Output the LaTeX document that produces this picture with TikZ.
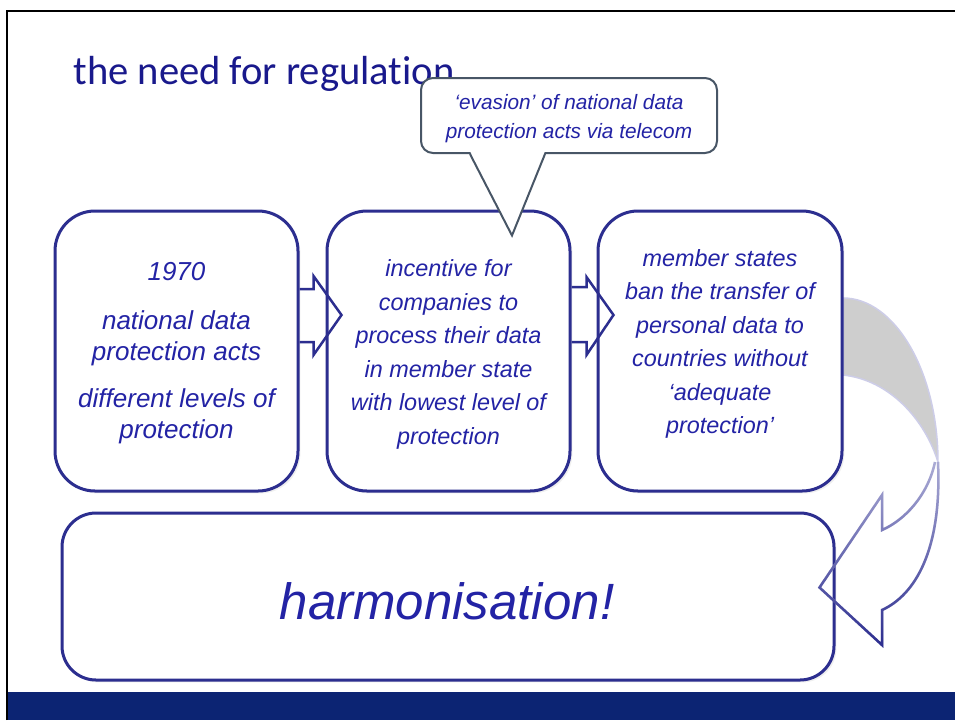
\documentclass[tikz,border=0pt]{standalone}
\usepackage{fontspec}
\setmainfont{Liberation Sans}
\newfontfamily\titlefont{Carlito}[Ligatures={NoCommon}]
\usepackage{tikz}
\usetikzlibrary{calc,shadows,fadings}
\definecolor{boxline}{RGB}{44,46,143}
\definecolor{textblue}{RGB}{35,35,165}
\definecolor{titleblue}{RGB}{25,25,140}
\definecolor{bandblue}{RGB}{12,36,115}
\definecolor{noteline}{RGB}{72,86,102}
\definecolor{ribbongray}{RGB}{206,206,206}
\definecolor{ribbonedge}{RGB}{205,205,232}

\begin{document}
\begin{tikzpicture}[x=0.5pt,y=-0.5pt]
  \tikzset{slidebox/.style={draw=boxline,line width=1.5pt,fill=white,rounded corners=20pt,inner sep=0pt,minimum width=121.5pt,minimum height=140pt,drop shadow={opacity=0.12,shadow xshift=1.2pt,shadow yshift=-1.2pt}}}
  \tikzset{boxtext/.style={text=textblue,align=center,inner sep=0pt,font=\itshape\fontsize{11.7}{16.75}\selectfont}}
  \tikzset{chevron/.style={draw=boxline,line width=1.25pt,line join=miter}}
  \tikzset{note/.style={draw=noteline,line width=1pt,fill=white,rounded corners=6pt,minimum width=148pt,minimum height=37.5pt}}
  \tikzset{notetext/.style={align=center,inner sep=0pt,text=textblue,font=\itshape\fontsize{10.4}{14.5}\selectfont}}
  \useasboundingbox (0,0) rectangle (955,720);
  \fill[white] (0,0) rectangle (955,720);
  \draw[black,line width=1.25pt] (7,720) -- (7,11) -- (955,11);
  \fill[bandblue] (8,692) rectangle (955,720);
  \node[anchor=base west,inner sep=0pt,text=titleblue,font=\titlefont\fontsize{20.3}{24}\selectfont] (title) at (73,84) {the need for regulation};
  \fill[ribbongray,draw=ribbonedge,line width=0.75pt] (843,298) .. controls (895,298) and (938,372) .. (938,462) .. controls (925,420) and (890,380) .. (843,375) -- cycle;
  \node[slidebox] (b1) at (176.5,351) {};
  \node[slidebox] (b2) at (448.5,351) {};
  \node[slidebox,minimum width=122pt] (b3) at (720,351) {};
  \node[slidebox,minimum width=386pt,minimum height=83.5pt,rounded corners=17pt] (b4) at (448,596.5) {};
  \node[boxtext,font=\itshape\fontsize{13}{15.5}\selectfont] (t1) at (176.5,353) {1970\\[9pt] national data\\protection acts\\[8pt] different levels of\\protection};
  \node[boxtext] (t2) at (448.5,354.5) {incentive for\\companies to\\process their data\\in member state\\with lowest level of\\protection};
  \node[boxtext] (t3) at (720,344) {member states\\ban the transfer of\\personal data to\\countries without\\‘adequate\\protection’};
  \node[text=textblue,inner sep=0pt,font=\itshape\fontsize{25.5}{30}\selectfont] (t4) at (447,601) {harmonisation!};
  \draw[chevron] ($(b1.east)+(0,-62)$) -- ++(14,0) -- ++(0,-13) -- ($(b2.west)+(16,-36)$) -- ($(b1.east)+(14,4)$) -- ++(0,-13) -- ++(-14,0);
  \draw[chevron] ($(b2.east)+(0,-64)$) -- ++(15,0) -- ++(0,-10) -- ($(b3.west)+(17,-36)$) -- ($(b2.east)+(15,4)$) -- ++(0,-13) -- ++(-15,0);
  \draw[ribbonedge!80!boxline,line width=1.25pt,line join=miter] (938,462) .. controls (942,550) and (915,595) .. (882,610) -- (882,645) -- ($(b4.east)+(-16,-9)$) -- (882,495) -- (882,530) .. controls (905,520) and (928,495) .. (935,462);
  \draw[boxline,line width=1.25pt,line join=miter,path fading=north] (938,462) .. controls (942,550) and (915,595) .. (882,610) -- (882,645) -- ($(b4.east)+(-16,-9)$) -- (882,495) -- (882,530) .. controls (905,520) and (928,495) .. (935,462);
  \node[note] (note) at (569,115.5) {};
  \node[notetext] (t5) at (569,118.5) {‘evasion’ of national data\\protection acts via telecom};
  \fill[white] ($(note.south)+(-99,-3)$) -- ($(b2.north)+(63.5,26)$) -- ($(note.south)+(-24,-3)$) -- cycle;
  \draw[noteline,line width=1pt,line join=miter] ($(note.south)+(-99,0)$) -- ($(b2.north)+(63.5,26)$) -- ($(note.south)+(-24,0)$);
\end{tikzpicture}
\end{document}
